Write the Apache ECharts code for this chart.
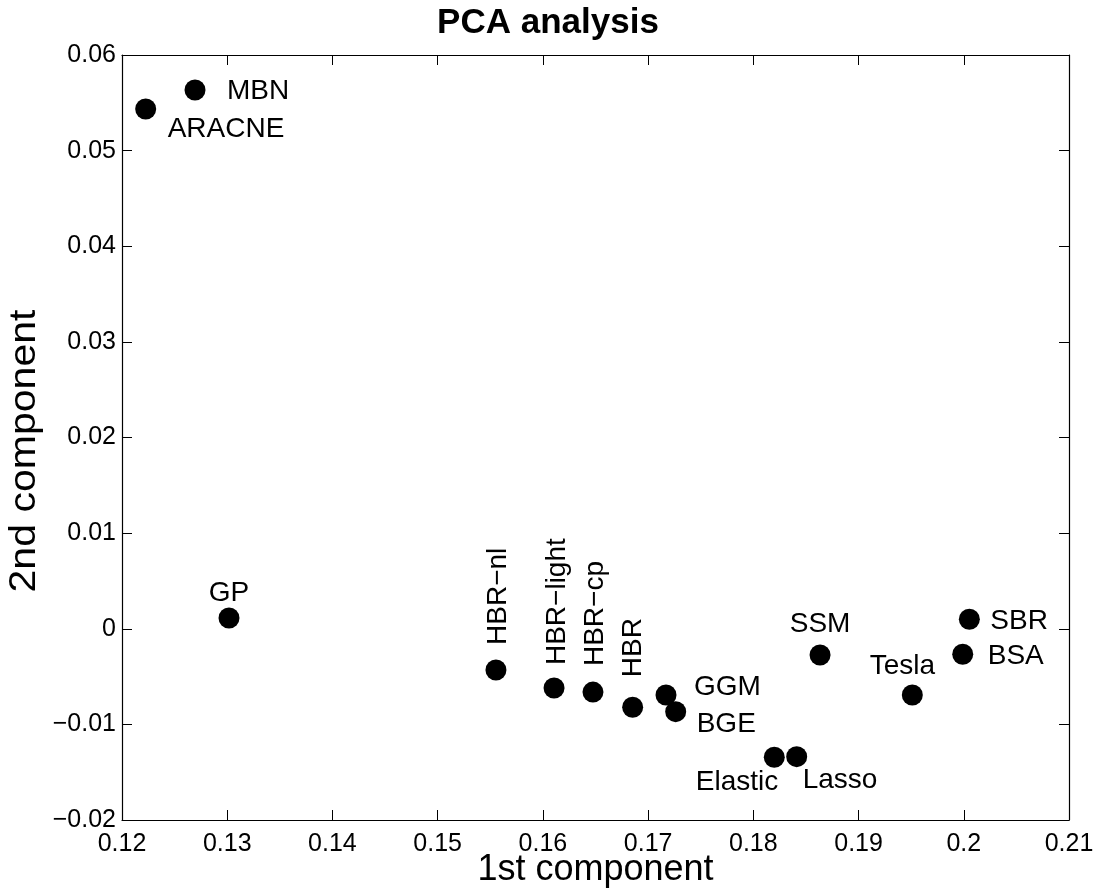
<!DOCTYPE html>
<html><head><meta charset="utf-8">
<script src="https://cdn.jsdelivr.net/npm/echarts@6/dist/echarts.min.js"></script>
<style>html,body{margin:0;padding:0;background:#fff}#c{width:1096px;height:892px}</style>
</head><body><div id="c"></div>
<script>
const methods = ['ARACNE','MBN','GP','HBR−nl','HBR−light','HBR−cp','HBR','GGM','BGE','Elastic','Lasso','SSM','Tesla','BSA','SBR'];
const comp1 = [0.12225,0.12694,0.13017,0.15554,0.16106,0.16476,0.16853,0.17170,0.17262,0.18199,0.18412,0.18634,0.19511,0.19990,0.20053];
const comp2 = [0.05435,0.05634,0.00112,-0.00431,-0.00620,-0.00662,-0.00821,-0.00693,-0.00867,-0.01344,-0.01338,-0.00275,-0.00693,-0.00267,0.00099];
const xTickLabels = ['0.12','0.13','0.14','0.15','0.16','0.17','0.18','0.19','0.2','0.21'];
const yTickLabels = ['−0.02','−0.01','0','0.01','0.02','0.03','0.04','0.05','0.06'];
const xTitle = '1st component';
const yTitle = '2nd component';
const chartTitle = 'PCA analysis';

const FONT = '"Liberation Sans", Arial, Helvetica, sans-serif';
// label placement relative to marker centre (for rotated labels offset is [up, right])
const labelLayout = {
  'ARACNE': {align:'left', offset:[22,20]},
  'MBN': {align:'left', offset:[32,1]},
  'GP': {align:'center', offset:[0,-25]},
  'HBR−nl': {align:'left', offset:[25,2], rotate:90},
  'HBR−light': {align:'left', offset:[23,3], rotate:90},
  'HBR−cp': {align:'left', offset:[26,2], rotate:90},
  'HBR': {align:'left', offset:[30,1], rotate:90},
  'GGM': {align:'left', offset:[28,-8]},
  'BGE': {align:'left', offset:[21,13]},
  'Elastic': {align:'right', offset:[4,25]},
  'Lasso': {align:'left', offset:[6,24]},
  'SSM': {align:'center', offset:[0,-31]},
  'Tesla': {align:'center', offset:[-10,-29]},
  'BSA': {align:'left', offset:[25,2]},
  'SBR': {align:'left', offset:[21,2]}
};

const data = methods.map((m,i) => {
  const L = labelLayout[m];
  return {
    name: m,
    value: [comp1[i], comp2[i]],
    label: {show:true, position:'inside', align:L.align, verticalAlign:'middle', offset:L.offset, rotate:L.rotate || 0}
  };
});

const tickCommon = {show:true, inside:true, length:10, lineStyle:{color:'#000', width:1}};
const lineCommon = {show:true, onZero:false, lineStyle:{color:'#000', width:1.2}};

const xFmt = v => xTickLabels[Math.round((v - 0.12) / 0.01)];
const yFmt = v => yTickLabels[Math.round((v + 0.02) / 0.01)];

const option = {
  animation: false,
  backgroundColor: '#fff',
  title: {
    text: chartTitle, left: 'center', top: 1,
    textStyle: {fontFamily: FONT, fontSize: 35, fontWeight: 'bold', color: '#000'}
  },
  grid: {left: 122, right: 27, top: 55, bottom: 72, containLabel: false, outerBoundsMode: 'none'},
  xAxis: [
    {type:'value', min:0.12, max:0.21, interval:0.01, position:'bottom',
     name: xTitle, nameLocation:'middle', nameGap:32, nameMoveOverlap:false,
     nameTextStyle:{fontFamily:FONT, fontSize:36, color:'#000'},
     axisLine: lineCommon, axisTick: tickCommon, splitLine:{show:false},
     axisLabel:{fontFamily:FONT, fontSize:25, color:'#000', margin:12, formatter:xFmt}},
    {type:'value', min:0.12, max:0.21, interval:0.01, position:'top',
     axisLine: lineCommon, axisTick: tickCommon, splitLine:{show:false}, axisLabel:{show:false}}
  ],
  yAxis: [
    {type:'value', min:-0.02, max:0.06, interval:0.01, position:'left',
     axisLine: lineCommon, axisTick: tickCommon, splitLine:{show:false},
     axisLabel:{fontFamily:FONT, fontSize:25, color:'#000', margin:6, formatter:yFmt}},
    {type:'value', min:-0.02, max:0.06, interval:0.01, position:'right',
     axisLine: lineCommon, axisTick: tickCommon, splitLine:{show:false}, axisLabel:{show:false}}
  ],
  graphic: [{
    type: 'text', x: 25, y: 451, rotation: Math.PI / 2, scaleX: 1.14,
    silent: true,
    style: {text: yTitle, font: '36px ' + FONT, fill: '#000', align: 'center', verticalAlign: 'middle'}
  }],
  series: [{
    type: 'scatter',
    xAxisIndex: 0, yAxisIndex: 0,
    symbol: 'circle', symbolSize: 21,
    itemStyle: {color: '#000', opacity: 1},
    label: {show:true, formatter:'{b}', fontFamily:FONT, fontSize:28, color:'#000'},
    emphasis: {disabled: true},
    data: data
  }]
};

const chart = echarts.init(document.getElementById('c'), null, {renderer:'canvas'});
chart.setOption(option);
</script>
</body></html>
